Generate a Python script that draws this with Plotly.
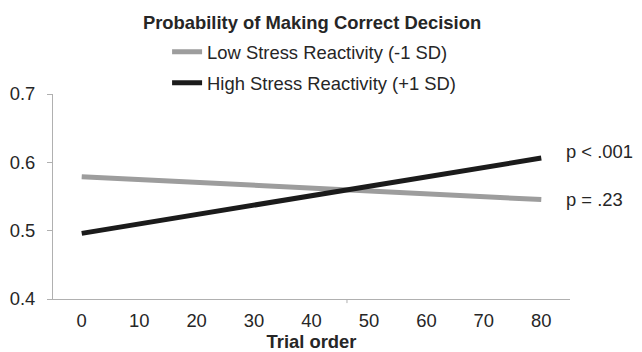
import plotly.graph_objects as go

# ---- data ----
trial_order = [0, 80]
low_stress = [0.579, 0.5455]    # Low Stress Reactivity (-1 SD)
high_stress = [0.496, 0.6063]   # High Stress Reactivity (+1 SD)
series_names = ["Low Stress Reactivity (-1 SD)", "High Stress Reactivity (+1 SD)"]
p_labels = ["p = .23", "p < .001"]
x_ticks = [0, 10, 20, 30, 40, 50, 60, 70, 80]
y_ticks = [0.4, 0.5, 0.6, 0.7]
y_tick_text = ["0.4", "0.5", "0.6", "0.7"]

FONT = "Liberation Sans, Arial, sans-serif"
FS = 18.4
TXT = "#262626"
AXIS = "#b0b0b0"
GRAY = "#9d9d9d"
BLACK = "#1b1b1b"

# page body has an 8px margin, so the figure is sized to fit the window
W, H = 634, 344

fig = go.Figure()
fig.add_trace(go.Scatter(x=trial_order, y=low_stress, mode="lines",
                         name=series_names[0], legendgroup="low",
                         line=dict(color=GRAY, width=5)))
fig.add_trace(go.Scatter(x=trial_order, y=high_stress, mode="lines",
                         name=series_names[1], legendgroup="high",
                         line=dict(color=BLACK, width=5)))

# p-value labels at the line ends
fig.add_annotation(x=trial_order[-1], y=high_stress[-1], text=p_labels[1],
                   showarrow=False, xanchor="left", yanchor="middle",
                   xshift=23, yshift=7, font=dict(size=FS, color=TXT, family=FONT))
fig.add_annotation(x=trial_order[-1], y=low_stress[-1], text=p_labels[0],
                   showarrow=False, xanchor="left", yanchor="middle",
                   xshift=23, yshift=0, font=dict(size=FS, color=TXT, family=FONT))

# small tick mark at crossing point of the two lines
slope_low = (low_stress[1] - low_stress[0]) / (trial_order[1] - trial_order[0])
slope_high = (high_stress[1] - high_stress[0]) / (trial_order[1] - trial_order[0])
x_cross = trial_order[0] + (low_stress[0] - high_stress[0]) / (slope_high - slope_low)
fig.add_shape(type="line", xref="x", yref="paper", x0=x_cross, x1=x_cross,
              y0=0, y1=-0.02, line=dict(color=AXIS, width=1))

fig.update_layout(
    width=W, height=H,
    margin=dict(l=45, r=71.5, t=85.7, b=53, autoexpand=False),
    paper_bgcolor="white", plot_bgcolor="white",
    font=dict(family=FONT, size=FS, color=TXT),
    title=dict(text="<b>Probability of Making Correct Decision</b>",
               x=0.4795, xanchor="center", y=1 - 15 / H, yanchor="middle",
               font=dict(size=FS, color=TXT, family=FONT)),
    showlegend=True,
    legend=dict(orientation="v", x=0.505, xanchor="center", y=1.296, yanchor="top",
                bgcolor="rgba(0,0,0,0)", font=dict(size=FS, color=TXT, family=FONT),
                tracegroupgap=4, itemwidth=30),
)
fig.update_xaxes(range=[-5, 85], tickvals=x_ticks, ticktext=[str(v) for v in x_ticks],
                 ticks="", showline=True, linecolor=AXIS, linewidth=1,
                 showgrid=False, zeroline=False, automargin=False,
                 ticklabelstandoff=5,
                 title=dict(text="<b>Trial order</b>", font=dict(size=FS, color=TXT, family=FONT),
                            standoff=20),
                 tickfont=dict(size=FS, color=TXT, family=FONT))
fig.update_yaxes(range=[0.4, 0.7], tickvals=y_ticks, ticktext=y_tick_text,
                 ticks="outside", ticklen=5, tickcolor=AXIS, showline=True,
                 linecolor=AXIS, linewidth=1, showgrid=False, zeroline=False,
                 automargin=False, ticklabelstandoff=8,
                 tickfont=dict(size=FS, color=TXT, family=FONT))

fig.write_html("out.html")
